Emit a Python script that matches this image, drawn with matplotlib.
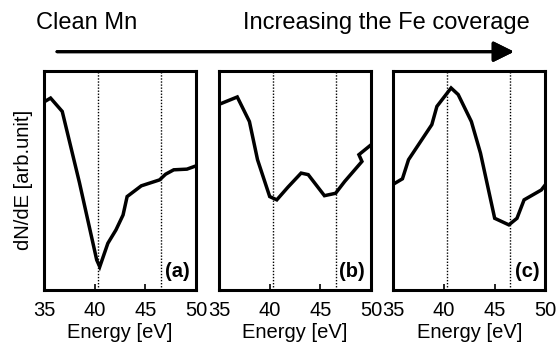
import numpy as np
import matplotlib.pyplot as plt

plt.rcParams['font.family'] = ['Liberation Sans', 'DejaVu Sans']

# spectra (x in eV, y in arbitrary units 0..1)
energy_a = [35.1, 35.65, 36.8, 38.5, 40.2, 40.5, 41.3, 42.1, 42.8, 43.2, 44.6, 46.4, 47.0, 47.8, 49.1, 50.0]
dnde_a = [0.860, 0.875, 0.814, 0.489, 0.137, 0.106, 0.213, 0.274, 0.342, 0.426, 0.475, 0.502, 0.528, 0.548, 0.551, 0.566]

energy_b = [35.2, 36.8, 38.0, 38.8, 40.0, 40.7, 41.8, 43.1, 43.8, 45.4, 46.5, 47.4, 49.1, 48.8, 50.0]
dnde_b = [0.850, 0.880, 0.768, 0.594, 0.426, 0.411, 0.469, 0.533, 0.526, 0.430, 0.441, 0.495, 0.586, 0.617, 0.662]

energy_c = [35.06, 35.9, 36.5, 38.8, 39.3, 40.7, 41.4, 42.7, 43.6, 45.0, 46.4, 47.2, 47.9, 49.6, 50.0]
dnde_c = [0.484, 0.507, 0.594, 0.754, 0.837, 0.921, 0.891, 0.768, 0.624, 0.327, 0.297, 0.327, 0.411, 0.456, 0.480]

panels = [(energy_a, dnde_a, '(a)'), (energy_b, dnde_b, '(b)'), (energy_c, dnde_c, '(c)')]
ref_lines = [40.3, 46.5]
xticks = [35, 40, 45, 50]

fig = plt.figure(figsize=(5.59, 3.46), dpi=100)
lefts = [0.0787, 0.3918, 0.7036]

for i, (x, y, tag) in enumerate(panels):
    ax = fig.add_axes([lefts[i], 0.1618, 0.272, 0.634])
    for e in ref_lines:
        ax.axvline(e, color='black', lw=1.0, ls=(0, (1, 1.2)))
    ax.plot(x, y, color='black', lw=2.5, solid_joinstyle='miter')
    ax.set_xlim(35, 50)
    ax.set_ylim(0, 1)
    ax.set_xticks(xticks)
    ax.set_yticks([])
    ax.tick_params(axis='x', direction='in', length=4, width=1.2, labelsize=14.5, pad=8)
    for s in ax.spines.values():
        s.set_linewidth(2.2)
    ax.set_xlabel('Energy [eV]', fontsize=14.5, labelpad=2)
    ax.text(0.96, 0.04, tag, transform=ax.transAxes, ha='right', va='bottom',
            fontsize=14.5, fontweight='bold')
    if i == 0:
        ax.set_ylabel('dN/dE [arb.unit]', fontsize=14.5, labelpad=8)

fig.text(0.0644, 0.9335, 'Clean Mn', fontsize=17, ha='left', va='center')
fig.text(0.4347, 0.9335, 'Increasing the Fe coverage', fontsize=17, ha='left', va='center')
fig.add_artist(plt.annotate('', xy=(0.9195, 0.8506), xytext=(0.102, 0.8506),
                            xycoords='figure fraction', textcoords='figure fraction',
                            arrowprops=dict(arrowstyle='-|>,head_length=1.25,head_width=0.62',
                                            lw=2.2, color='black', shrinkA=0, shrinkB=0)))

fig.savefig('out.png', dpi=100)
